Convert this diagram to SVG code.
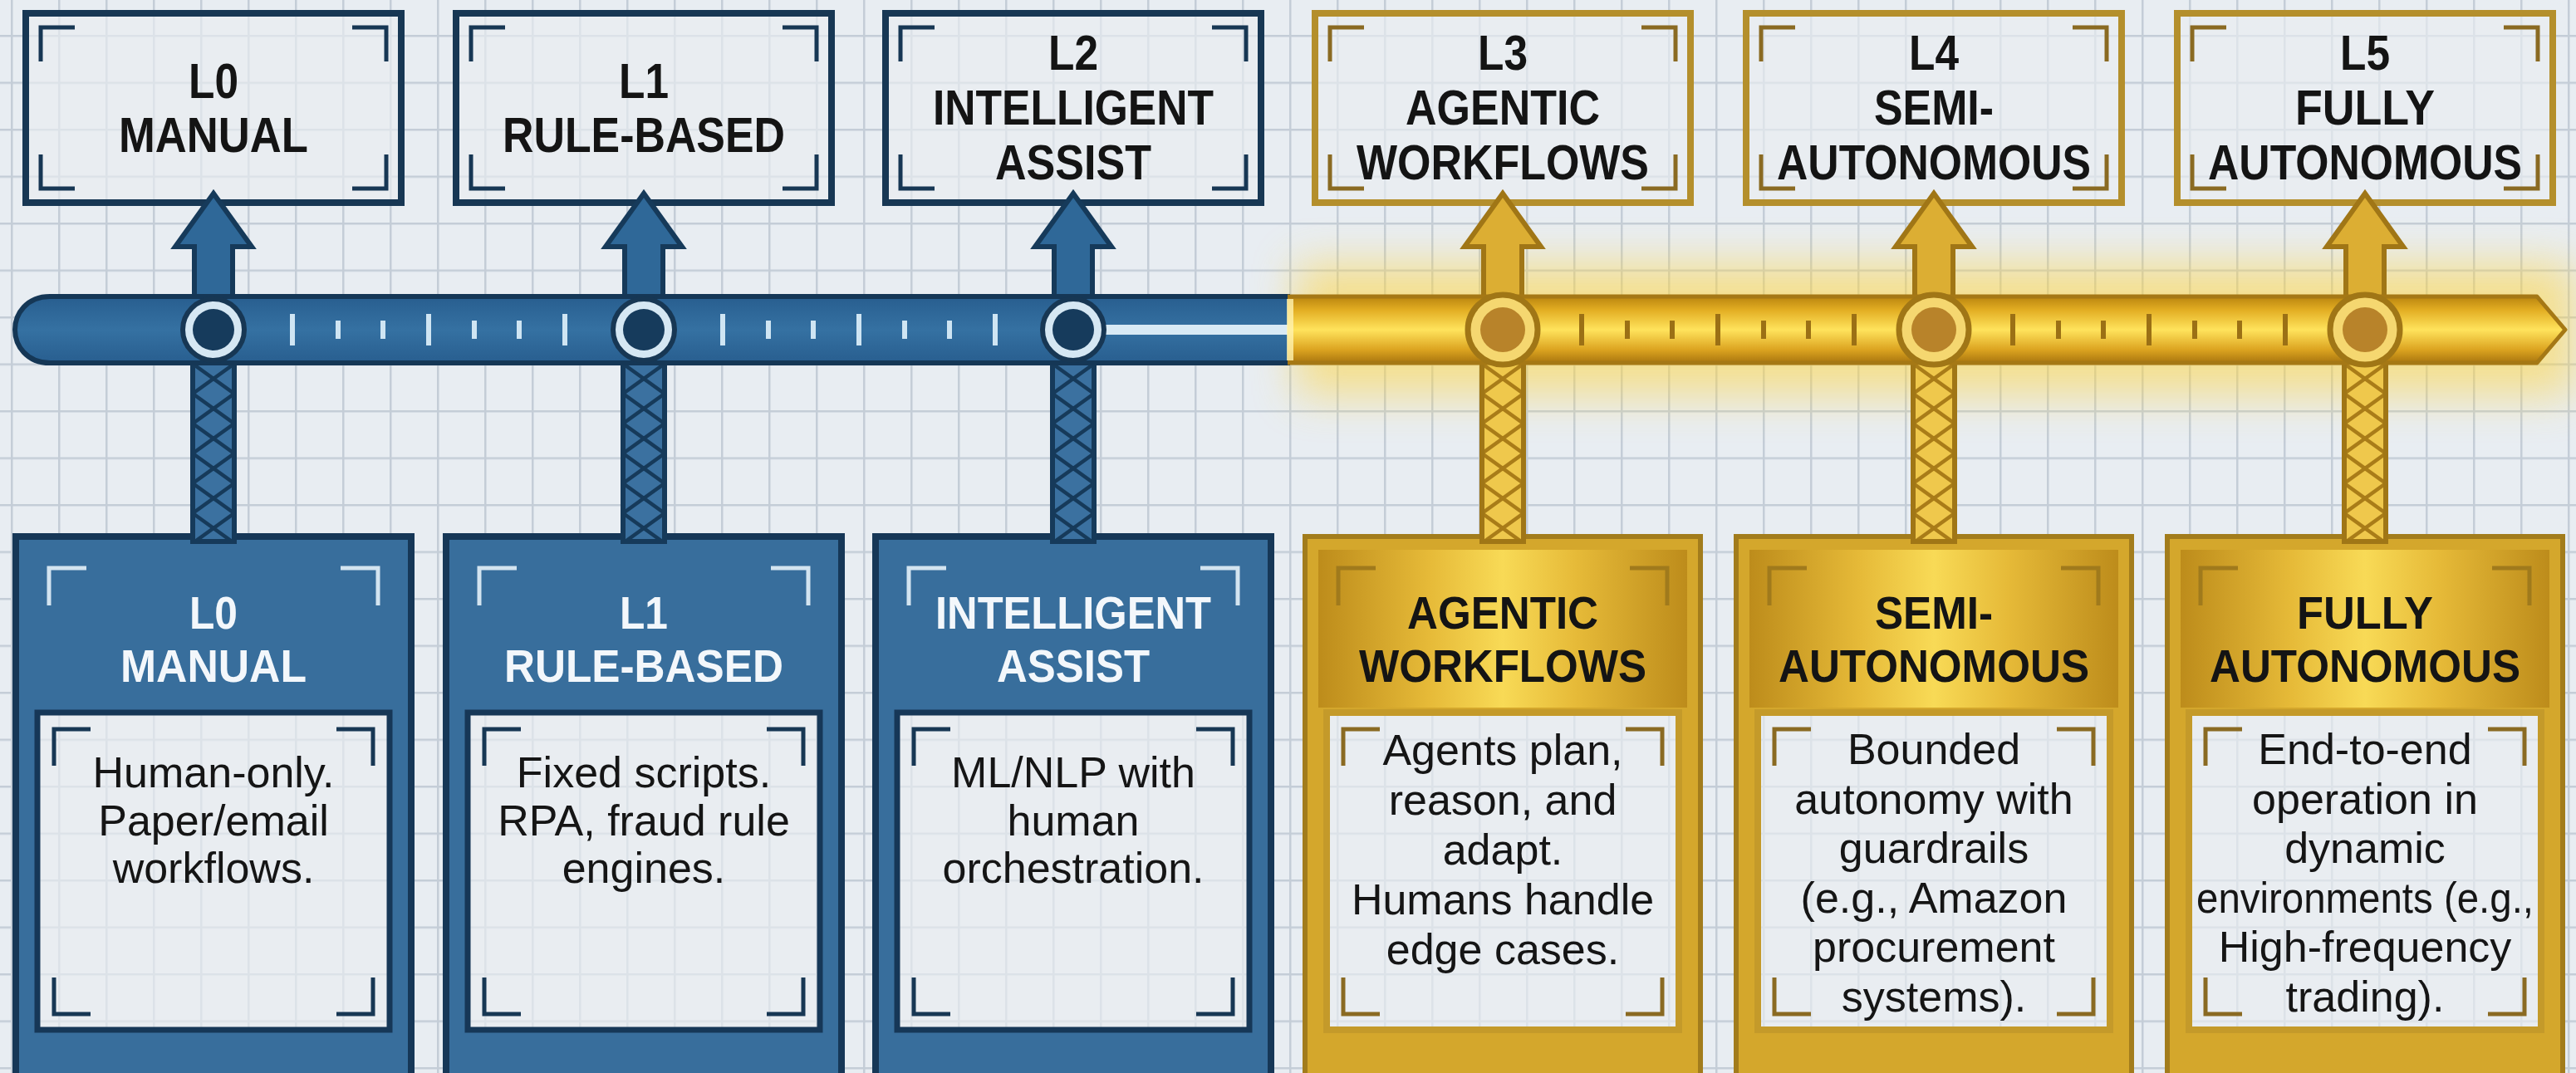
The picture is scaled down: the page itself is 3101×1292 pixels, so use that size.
<svg xmlns="http://www.w3.org/2000/svg" width="3101" height="1292" viewBox="0 0 3101 1292">
<defs>
<style>
.t{font-family:"Liberation Sans",Arial,sans-serif;font-weight:700;text-anchor:middle;fill:#141414}
.tt{font-size:60px}
.bh{font-size:55px}
.wt{fill:#f3f7fb}
.b{font-family:"Liberation Sans",Arial,sans-serif;font-size:52px;text-anchor:middle;fill:#151515}
.brN{fill:none;stroke:#173754;stroke-width:5}
.brG{fill:none;stroke:#8a6a22;stroke-width:5}
.brL{fill:none;stroke:#d3e4f0;stroke-width:5}
.brH{fill:none;stroke:#a07a1c;stroke-width:5}
.topF{fill:#e9edf1}
.topB{fill:none;stroke:#173754;stroke-width:8}
.topG{fill:none;stroke:#b48f2c;stroke-width:8}
.cardB{fill:#386e9c;stroke:#163757;stroke-width:8}
.cardG{fill:#d4a72c;stroke:#a27c1c;stroke-width:6}
.inB{fill:none;stroke:#163757;stroke-width:7}
.inG{fill:none;stroke:#c49a2a;stroke-width:8}
.inF{fill:#e9edf1}
.gridO{fill:url(#grid);opacity:.35}
.arB{fill:#2f6898;stroke:#163a5a;stroke-width:6}
.arG{fill:#dcae33;stroke:#a07616;stroke-width:6}
.tkB{stroke:#cfe5f3;stroke-width:6}
.tkG{stroke:#9b7015;stroke-width:6}
</style>
<pattern id="grid" patternUnits="userSpaceOnUse" x="13" y="42" width="57" height="56.5">
<path d="M0,1.25H57M1.25,0V56.5" fill="none" stroke="#c4cdd7" stroke-width="2.5"/>
</pattern>
<pattern id="trB" patternUnits="userSpaceOnUse" x="-25" y="438" width="50" height="36">
<rect width="50" height="36" fill="#3b71a0"/>
<path d="M0,0L50,36M50,0L0,36" stroke="#163a5a" stroke-width="4.5"/>
</pattern>
<pattern id="trG" patternUnits="userSpaceOnUse" x="-25" y="438" width="50" height="36">
<rect width="50" height="36" fill="#efc84c"/>
<path d="M0,0L50,36M50,0L0,36" stroke="#a97c18" stroke-width="4.5"/>
</pattern>
<linearGradient id="gbar" x1="0" y1="0" x2="0" y2="1">
<stop offset="0" stop-color="#b9850f"/>
<stop offset=".2" stop-color="#e2ad22"/>
<stop offset=".5" stop-color="#ffe35c"/>
<stop offset=".8" stop-color="#dca420"/>
<stop offset="1" stop-color="#a9760f"/>
</linearGradient>
<linearGradient id="bbar" x1="0" y1="0" x2="0" y2="1">
<stop offset="0" stop-color="#285e8f"/>
<stop offset=".5" stop-color="#3571a2"/>
<stop offset="1" stop-color="#285e8f"/>
</linearGradient>
<linearGradient id="ghead" x1="0" y1="0" x2="1" y2="0">
<stop offset="0" stop-color="#bd8c1b"/>
<stop offset=".3" stop-color="#e6ba38"/>
<stop offset=".5" stop-color="#f8da56"/>
<stop offset=".7" stop-color="#e6ba38"/>
<stop offset="1" stop-color="#bd8c1b"/>
</linearGradient>
<filter id="blur" x="-20%" y="-100%" width="140%" height="300%">
<feGaussianBlur stdDeviation="26"/>
</filter>
</defs>

<rect width="3101" height="1292" fill="#e8edf2"/>
<rect width="3101" height="1292" fill="url(#grid)"/>
<rect x="1560" y="318" width="1540" height="158" fill="#ffd43a" opacity=".55" filter="url(#blur)"/>

<!-- bottom cards -->
<g id="card-L0">
<rect class="cardB" x="19" y="646" width="476" height="660"/>
<path class="brL" d="M59,729V684H104M410,684H455V729"/>
<text class="t bh wt" x="257" y="757" textLength="58" lengthAdjust="spacingAndGlyphs">L0</text>
<text class="t bh wt" x="257" y="821" textLength="224" lengthAdjust="spacingAndGlyphs">MANUAL</text>
<rect class="inF" x="45" y="858" width="424" height="382"/>
<rect class="gridO" x="45" y="858" width="424" height="382"/>
<rect class="inB" x="45" y="858" width="424" height="382"/>
<path class="brN" d="M65,922V878H109M405,878H449V922M65,1177V1221H109M405,1221H449V1177"/>
<text class="b" x="257" y="948">Human-only.</text>
<text class="b" x="257" y="1006">Paper/email</text>
<text class="b" x="257" y="1063">workflows.</text>
</g>
<g id="card-L1">
<rect class="cardB" x="537" y="646" width="476" height="660"/>
<path class="brL" d="M577,729V684H622M928,684H973V729"/>
<text class="t bh wt" x="775" y="757" textLength="58" lengthAdjust="spacingAndGlyphs">L1</text>
<text class="t bh wt" x="775" y="821" textLength="336" lengthAdjust="spacingAndGlyphs">RULE-BASED</text>
<rect class="inF" x="563" y="858" width="424" height="382"/>
<rect class="gridO" x="563" y="858" width="424" height="382"/>
<rect class="inB" x="563" y="858" width="424" height="382"/>
<path class="brN" d="M583,922V878H627M923,878H967V922M583,1177V1221H627M923,1221H967V1177"/>
<text class="b" x="775" y="948">Fixed scripts.</text>
<text class="b" x="775" y="1006">RPA, fraud rule</text>
<text class="b" x="775" y="1063">engines.</text>
</g>
<g id="card-L2">
<rect class="cardB" x="1054" y="646" width="476" height="660"/>
<path class="brL" d="M1094,729V684H1139M1445,684H1490V729"/>
<text class="t bh wt" x="1292" y="757" textLength="332" lengthAdjust="spacingAndGlyphs">INTELLIGENT</text>
<text class="t bh wt" x="1292" y="821" textLength="184" lengthAdjust="spacingAndGlyphs">ASSIST</text>
<rect class="inF" x="1080" y="858" width="424" height="382"/>
<rect class="gridO" x="1080" y="858" width="424" height="382"/>
<rect class="inB" x="1080" y="858" width="424" height="382"/>
<path class="brN" d="M1100,922V878H1144M1440,878H1484V922M1100,1177V1221H1144M1440,1221H1484V1177"/>
<text class="b" x="1292" y="948">ML/NLP with</text>
<text class="b" x="1292" y="1006">human</text>
<text class="b" x="1292" y="1063">orchestration.</text>
</g>
<g id="card-L3">
<rect class="cardG" x="1571" y="646" width="476" height="660"/>
<rect x="1587" y="662" width="444" height="190" fill="url(#ghead)"/>
<path class="brH" d="M1611,729V684H1656M1962,684H2007V729"/>
<text class="t bh" x="1809" y="757" textLength="230" lengthAdjust="spacingAndGlyphs">AGENTIC</text>
<text class="t bh" x="1809" y="821" textLength="346" lengthAdjust="spacingAndGlyphs">WORKFLOWS</text>
<rect class="inF" x="1597" y="858" width="424" height="382"/>
<rect class="gridO" x="1597" y="858" width="424" height="382"/>
<rect class="inG" x="1597" y="858" width="424" height="382"/>
<path class="brG" d="M1617,922V878H1661M1957,878H2001V922M1617,1177V1221H1661M1957,1221H2001V1177"/>
<text class="b" x="1809" y="921">Agents plan,</text>
<text class="b" x="1809" y="981">reason, and</text>
<text class="b" x="1809" y="1041">adapt.</text>
<text class="b" x="1809" y="1101">Humans handle</text>
<text class="b" x="1809" y="1161">edge cases.</text>
</g>
<g id="card-L4">
<rect class="cardG" x="2090" y="646" width="476" height="660"/>
<rect x="2106" y="662" width="444" height="190" fill="url(#ghead)"/>
<path class="brH" d="M2130,729V684H2175M2481,684H2526V729"/>
<text class="t bh" x="2328" y="757" textLength="142" lengthAdjust="spacingAndGlyphs">SEMI-</text>
<text class="t bh" x="2328" y="821" textLength="374" lengthAdjust="spacingAndGlyphs">AUTONOMOUS</text>
<rect class="inF" x="2116" y="858" width="424" height="382"/>
<rect class="gridO" x="2116" y="858" width="424" height="382"/>
<rect class="inG" x="2116" y="858" width="424" height="382"/>
<path class="brG" d="M2136,922V878H2180M2476,878H2520V922M2136,1177V1221H2180M2476,1221H2520V1177"/>
<text class="b" x="2328" y="920">Bounded</text>
<text class="b" x="2328" y="980">autonomy with</text>
<text class="b" x="2328" y="1039">guardrails</text>
<text class="b" x="2328" y="1099">(e.g., Amazon</text>
<text class="b" x="2328" y="1158">procurement</text>
<text class="b" x="2328" y="1218">systems).</text>
</g>
<g id="card-L5">
<rect class="cardG" x="2609" y="646" width="476" height="660"/>
<rect x="2625" y="662" width="444" height="190" fill="url(#ghead)"/>
<path class="brH" d="M2649,729V684H2694M3000,684H3045V729"/>
<text class="t bh" x="2847" y="757" textLength="164" lengthAdjust="spacingAndGlyphs">FULLY</text>
<text class="t bh" x="2847" y="821" textLength="374" lengthAdjust="spacingAndGlyphs">AUTONOMOUS</text>
<rect class="inF" x="2635" y="858" width="424" height="382"/>
<rect class="gridO" x="2635" y="858" width="424" height="382"/>
<rect class="inG" x="2635" y="858" width="424" height="382"/>
<path class="brG" d="M2655,922V878H2699M2995,878H3039V922M2655,1177V1221H2699M2995,1221H3039V1177"/>
<text class="b" x="2847" y="920">End-to-end</text>
<text class="b" x="2847" y="980">operation in</text>
<text class="b" x="2847" y="1039">dynamic</text>
<text class="b" x="2847" y="1099" textLength="406" lengthAdjust="spacingAndGlyphs">environments (e.g.,</text>
<text class="b" x="2847" y="1158">High-frequency</text>
<text class="b" x="2847" y="1218">trading).</text>
</g>

<!-- top level labels -->
<g id="label-L0">
<rect class="topF" x="31" y="16" width="452" height="228"/>
<rect class="gridO" x="31" y="16" width="452" height="228"/>
<rect class="topB" x="31" y="16" width="452" height="228"/>
<path class="brN" d="M49,74V33H90M424,33H465V74M49,186V227H90M424,227H465V186"/>
<text class="t tt" x="257" y="118" textLength="60" lengthAdjust="spacingAndGlyphs">L0</text>
<text class="t tt" x="257" y="183" textLength="228" lengthAdjust="spacingAndGlyphs">MANUAL</text>
</g>
<g id="label-L1">
<rect class="topF" x="549" y="16" width="452" height="228"/>
<rect class="gridO" x="549" y="16" width="452" height="228"/>
<rect class="topB" x="549" y="16" width="452" height="228"/>
<path class="brN" d="M567,74V33H608M942,33H983V74M567,186V227H608M942,227H983V186"/>
<text class="t tt" x="775" y="118" textLength="60" lengthAdjust="spacingAndGlyphs">L1</text>
<text class="t tt" x="775" y="183" textLength="340" lengthAdjust="spacingAndGlyphs">RULE-BASED</text>
</g>
<g id="label-L2">
<rect class="topF" x="1066" y="16" width="452" height="228"/>
<rect class="gridO" x="1066" y="16" width="452" height="228"/>
<rect class="topB" x="1066" y="16" width="452" height="228"/>
<path class="brN" d="M1084,74V33H1125M1459,33H1500V74M1084,186V227H1125M1459,227H1500V186"/>
<text class="t tt" x="1292" y="84" textLength="60" lengthAdjust="spacingAndGlyphs">L2</text>
<text class="t tt" x="1292" y="150" textLength="338" lengthAdjust="spacingAndGlyphs">INTELLIGENT</text>
<text class="t tt" x="1292" y="216" textLength="188" lengthAdjust="spacingAndGlyphs">ASSIST</text>
</g>
<g id="label-L3">
<rect class="topF" x="1583" y="16" width="452" height="228"/>
<rect class="gridO" x="1583" y="16" width="452" height="228"/>
<rect class="topG" x="1583" y="16" width="452" height="228"/>
<path class="brG" d="M1601,74V33H1642M1976,33H2017V74M1601,186V227H1642M1976,227H2017V186"/>
<text class="t tt" x="1809" y="84" textLength="60" lengthAdjust="spacingAndGlyphs">L3</text>
<text class="t tt" x="1809" y="150" textLength="234" lengthAdjust="spacingAndGlyphs">AGENTIC</text>
<text class="t tt" x="1809" y="216" textLength="352" lengthAdjust="spacingAndGlyphs">WORKFLOWS</text>
</g>
<g id="label-L4">
<rect class="topF" x="2102" y="16" width="452" height="228"/>
<rect class="gridO" x="2102" y="16" width="452" height="228"/>
<rect class="topG" x="2102" y="16" width="452" height="228"/>
<path class="brG" d="M2120,74V33H2161M2495,33H2536V74M2120,186V227H2161M2495,227H2536V186"/>
<text class="t tt" x="2328" y="84" textLength="60" lengthAdjust="spacingAndGlyphs">L4</text>
<text class="t tt" x="2328" y="150" textLength="144" lengthAdjust="spacingAndGlyphs">SEMI-</text>
<text class="t tt" x="2328" y="216" textLength="378" lengthAdjust="spacingAndGlyphs">AUTONOMOUS</text>
</g>
<g id="label-L5">
<rect class="topF" x="2621" y="16" width="452" height="228"/>
<rect class="gridO" x="2621" y="16" width="452" height="228"/>
<rect class="topG" x="2621" y="16" width="452" height="228"/>
<path class="brG" d="M2639,74V33H2680M3014,33H3055V74M2639,186V227H2680M3014,227H3055V186"/>
<text class="t tt" x="2847" y="84" textLength="60" lengthAdjust="spacingAndGlyphs">L5</text>
<text class="t tt" x="2847" y="150" textLength="168" lengthAdjust="spacingAndGlyphs">FULLY</text>
<text class="t tt" x="2847" y="216" textLength="378" lengthAdjust="spacingAndGlyphs">AUTONOMOUS</text>
</g>

<!-- connectors -->
<g id="connectors">
<g transform="translate(257,0)">
<path class="arB" d="M-23,362V297H-46L0,233L46,297H23V362Z"/>
<rect x="-25" y="430" width="50" height="222" fill="url(#trB)" stroke="#163a5a" stroke-width="6"/>
</g>
<g transform="translate(775,0)">
<path class="arB" d="M-23,362V297H-46L0,233L46,297H23V362Z"/>
<rect x="-25" y="430" width="50" height="222" fill="url(#trB)" stroke="#163a5a" stroke-width="6"/>
</g>
<g transform="translate(1292,0)">
<path class="arB" d="M-23,362V297H-46L0,233L46,297H23V362Z"/>
<rect x="-25" y="430" width="50" height="222" fill="url(#trB)" stroke="#163a5a" stroke-width="6"/>
</g>
<g transform="translate(1809,0)">
<path class="arG" d="M-23,362V297H-46L0,233L46,297H23V362Z"/>
<rect x="-25" y="430" width="50" height="222" fill="url(#trG)" stroke="#a07616" stroke-width="6"/>
</g>
<g transform="translate(2328,0)">
<path class="arG" d="M-23,362V297H-46L0,233L46,297H23V362Z"/>
<rect x="-25" y="430" width="50" height="222" fill="url(#trG)" stroke="#a07616" stroke-width="6"/>
</g>
<g transform="translate(2847,0)">
<path class="arG" d="M-23,362V297H-46L0,233L46,297H23V362Z"/>
<rect x="-25" y="430" width="50" height="222" fill="url(#trG)" stroke="#a07616" stroke-width="6"/>
</g>
</g>

<!-- timeline -->
<g id="timeline">
<path d="M1553,357H60C32,357 18,378 18,397C18,416 32,437 60,437H1553Z" fill="url(#bbar)"/>
<path d="M1553,357H60C32,357 18,378 18,397C18,416 32,437 60,437H1553" fill="none" stroke="#153756" stroke-width="6"/>
<rect x="1300" y="391" width="252" height="12" fill="#d8eaf5"/>
<path d="M1550,357H3054L3088,397L3054,437H1550Z" fill="url(#gbar)"/>
<path d="M1550,357H3054L3088,397L3054,437H1550" fill="none" stroke="#a57815" stroke-width="5" stroke-linejoin="round"/>
<rect x="1549" y="360" width="8" height="74" fill="#fff3b0" opacity=".8"/>
<g class="tkB">
<path d="M352,378V416M407,386V408M461,386V408M516,378V416M571,386V408M625,386V408M680,378V416"/>
<path d="M870,378V416M925,386V408M979,386V408M1034,378V416M1089,386V408M1143,386V408M1198,378V416"/>
</g>
<g class="tkG">
<path d="M1904,378V416M1959,386V408M2013,386V408M2068,378V416M2123,386V408M2177,386V408M2232,378V416"/>
<path d="M2423,378V416M2478,386V408M2532,386V408M2587,378V416M2642,386V408M2696,386V408M2751,378V416"/>
</g>
<g fill="#d5e7f3" stroke="#173754" stroke-width="6">
<circle cx="257" cy="397" r="37"/>
<circle cx="775" cy="397" r="37"/>
<circle cx="1292" cy="397" r="37"/>
</g>
<g fill="#163b5c">
<circle cx="257" cy="397" r="25"/>
<circle cx="775" cy="397" r="25"/>
<circle cx="1292" cy="397" r="25"/>
</g>
<g fill="#f5d770" stroke="#a07616" stroke-width="7">
<circle cx="1809" cy="397" r="42"/>
<circle cx="2328" cy="397" r="42"/>
<circle cx="2847" cy="397" r="42"/>
</g>
<g fill="#b8832a">
<circle cx="1809" cy="397" r="27"/>
<circle cx="2328" cy="397" r="27"/>
<circle cx="2847" cy="397" r="27"/>
</g>
</g>
</svg>
